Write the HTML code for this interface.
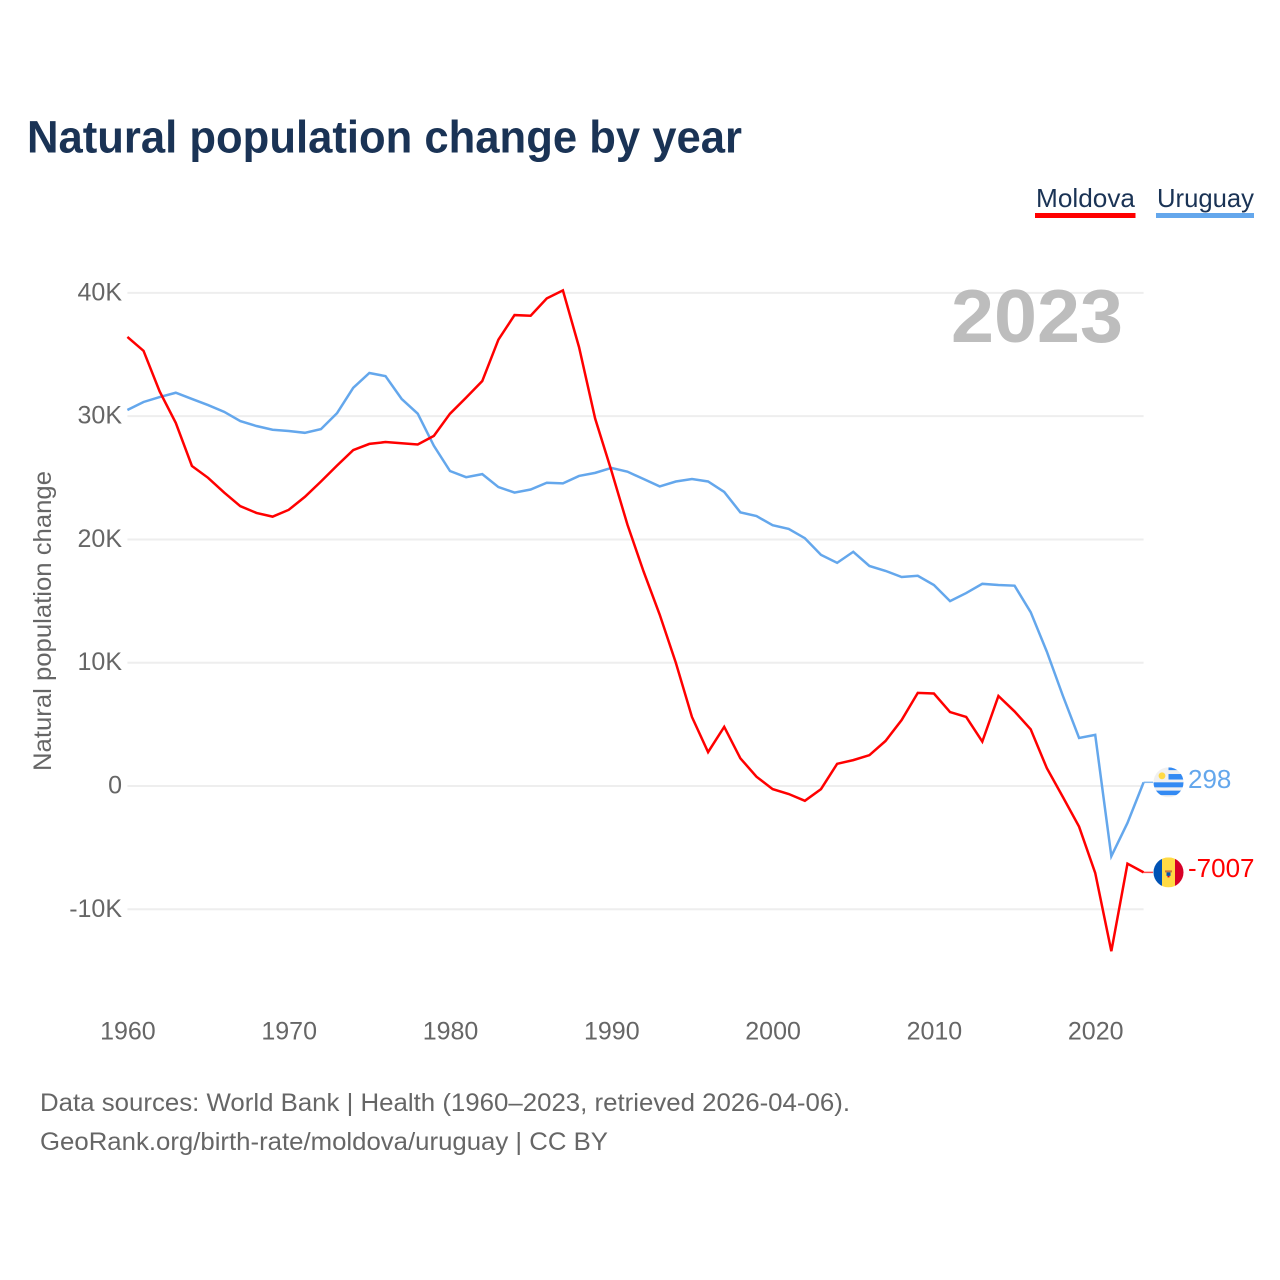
<!DOCTYPE html>
<html lang="en">
<head>
<meta charset="utf-8">
<title>Natural population change by year</title>
<style>
html,body{margin:0;padding:0;background:#fff;width:1280px;height:1280px;overflow:hidden}
svg{display:block}
text{font-family:"Liberation Sans",sans-serif}
</style>
</head>
<body>
<svg id="chart" width="1280" height="1280" viewBox="0 0 1280 1280" xmlns="http://www.w3.org/2000/svg">
  <defs>
    <clipPath id="clip-flag"><circle cx="0" cy="0" r="15"/></clipPath>
  </defs>
  <rect x="0" y="0" width="1280" height="1280" fill="#fff"/>
  <text x="27" y="152.5" font-size="45" font-weight="700" fill="#1a3355" textLength="715" lengthAdjust="spacingAndGlyphs">Natural population change by year</text>

  <g>
    <text x="1036" y="207" font-size="26" fill="#1a3355" textLength="99" lengthAdjust="spacingAndGlyphs">Moldova</text>
    <rect x="1035" y="213" width="100.5" height="5" fill="#ff0000"/>
  </g>
  <g>
    <text x="1157" y="207" font-size="26" fill="#1a3355" textLength="97" lengthAdjust="spacingAndGlyphs">Uruguay</text>
    <rect x="1156" y="213" width="98" height="5" fill="#64a7ec"/>
  </g>

  <g id="grid"></g>
  <g id="y-ticks"></g>
  <g id="x-ticks"></g>

  <text transform="translate(51 621) rotate(-90)" text-anchor="middle" font-size="25" fill="#666" textLength="300" lengthAdjust="spacingAndGlyphs">Natural population change</text>

  <text x="1123" y="342" text-anchor="end" font-size="75" font-weight="700" fill="#bdbdbd" textLength="172" lengthAdjust="spacingAndGlyphs">2023</text>

  <g id="series"></g>
  <g id="ends"></g>

  <text x="40" y="1111" font-size="25" fill="#666" textLength="810" lengthAdjust="spacingAndGlyphs">Data sources: World Bank | Health (1960–2023, retrieved 2026-04-06).</text>
  <text x="40" y="1150" font-size="25" fill="#666" textLength="568" lengthAdjust="spacingAndGlyphs">GeoRank.org/birth-rate/moldova/uruguay | CC BY</text>
</svg>

<script>
const startYear = 1960;
const moldova = [
  36430,35300,32000,29450,25960,25000,23800,22700,22150,21850,
  22400,23450,24700,26000,27250,27750,27900,27800,27700,28400,
  30200,31500,32850,36200,38200,38150,39550,40200,35600,29800,
  25600,21200,17400,13900,10000,5600,2750,4800,2250,750,
  -250,-650,-1200,-250,1800,2100,2500,3650,5350,7550,
  7500,6000,5600,3600,7300,6050,4600,1450,-900,-3300,
  -7050,-13400,-6300,-7007
];
const uruguay = [
  30500,31150,31550,31900,31400,30900,30350,29600,29200,28900,
  28800,28650,28950,30250,32300,33500,33250,31400,30200,27600,
  25550,25050,25300,24250,23800,24050,24600,24550,25150,25400,
  25800,25500,24900,24300,24700,24900,24700,23850,22200,21900,
  21150,20850,20100,18750,18100,19000,17850,17450,16950,17050,
  16300,15000,15650,16400,16300,16250,14100,10900,7300,3900,
  4150,-5700,-3000,298
];
const yTickValues = [-10000,0,10000,20000,30000,40000];
const yTickLabels = ["-10K","0","10K","20K","30K","40K"];
const xTickYears = [1960,1970,1980,1990,2000,2010,2020];
const xTickLabels = ["1960","1970","1980","1990","2000","2010","2020"];

const NS = "http://www.w3.org/2000/svg";
const PLOT_LEFT = 127.4, PLOT_RIGHT = 1143.6, Y_ZERO = 786, PX_PER_UNIT = 0.012328;
const lastIndex = moldova.length - 1;
function xAxis(year){ return PLOT_LEFT + (year - startYear) * (PLOT_RIGHT - PLOT_LEFT) / lastIndex; }
function yAxis(value){ return Y_ZERO - value * PX_PER_UNIT; }
function svgEl(tag, attrs, parent){
  const el = document.createElementNS(NS, tag);
  for (const k in attrs) el.setAttribute(k, attrs[k]);
  parent.appendChild(el);
  return el;
}
const gridG = document.getElementById("grid");
const yG = document.getElementById("y-ticks");
const xG = document.getElementById("x-ticks");
const seriesG = document.getElementById("series");
const endsG = document.getElementById("ends");

yTickValues.forEach(function(v, i){
  const line = svgEl("line", {x1:PLOT_LEFT, x2:PLOT_RIGHT, y1:yAxis(v), y2:yAxis(v), stroke:"#eeeeee", "stroke-width":2}, gridG);
  
  
  const t = svgEl("text", {x:122, y:yAxis(v)+7.5, "text-anchor":"end", "font-size":25, fill:"#666"}, yG);
  t.textContent = yTickLabels[i];
  
  
});

xTickYears.forEach(function(year, i){
  const t = svgEl("text", {x:xAxis(year)+0.5, y:1039.5, "text-anchor":"middle", "font-size":25, fill:"#666"}, xG);
  t.textContent = xTickLabels[i];
  
  
});

function pathFor(values){
  return values.map(function(v, i){
    return (i ? "L" : "M") + xAxis(startYear + i).toFixed(2) + " " + yAxis(v).toFixed(2);
  }).join(" ");
}

const uruguayLine = svgEl("path", {d:pathFor(uruguay), fill:"none", stroke:"#64a7ec", "stroke-width":2.5, "stroke-linejoin":"miter"}, seriesG);


const moldovaLine = svgEl("path", {d:pathFor(moldova), fill:"none", stroke:"#ff0000", "stroke-width":2.5, "stroke-linejoin":"miter"}, seriesG);



function flagGroup(value){
  return svgEl("g", {transform:"translate(1168.5 " + yAxis(value).toFixed(2) + ")", "clip-path":"url(#clip-flag)"}, endsG);
}

/* Uruguay end marker */
const uEnd = uruguay[lastIndex];
const uConn = svgEl("line", {x1:PLOT_RIGHT, x2:1153, y1:yAxis(uEnd), y2:yAxis(uEnd), stroke:"#64a7ec", "stroke-width":1.5, opacity:0.8}, endsG);


const uFlag = flagGroup(uEnd);


svgEl("rect", {x:-15, y:-15, width:30, height:30, fill:"#f0f0f0"}, uFlag);
svgEl("rect", {x:0, y:-15, width:15, height:2.8, fill:"#338af3"}, uFlag);
svgEl("rect", {x:0, y:-8.3, width:15, height:5.5, fill:"#338af3"}, uFlag);
svgEl("rect", {x:-15, y:0, width:30, height:5, fill:"#338af3"}, uFlag);
svgEl("rect", {x:-15, y:8.3, width:30, height:4.5, fill:"#338af3"}, uFlag);
svgEl("circle", {cx:-6.5, cy:-6.5, r:3.4, fill:"#ffda44"}, uFlag);
const uLabel = svgEl("text", {x:1188, y:yAxis(uEnd)+5.5, "font-size":26, fill:"#64a7ec"}, endsG);
uLabel.textContent = String(uEnd);



/* Moldova end marker */
const mEnd = moldova[lastIndex];
const mConn = svgEl("line", {x1:PLOT_RIGHT, x2:1153, y1:yAxis(mEnd), y2:yAxis(mEnd), stroke:"#ff0000", "stroke-width":1.5, opacity:0.7}, endsG);


const mFlag = flagGroup(mEnd);


svgEl("rect", {x:-15, y:-15, width:8.5, height:30, fill:"#0052b4"}, mFlag);
svgEl("rect", {x:-6.5, y:-15, width:13, height:30, fill:"#ffda44"}, mFlag);
svgEl("rect", {x:6.5, y:-15, width:8.5, height:30, fill:"#d80027"}, mFlag);
svgEl("rect", {x:-3.5, y:-2, width:7, height:2, fill:"#c9763c"}, mFlag);
svgEl("rect", {x:-2, y:0, width:4, height:3.5, fill:"#0052b4"}, mFlag);
svgEl("rect", {x:-1, y:3.5, width:2, height:1.5, fill:"#d80027"}, mFlag);
const mLabel = svgEl("text", {x:1188, y:yAxis(mEnd)+4.5, "font-size":26, fill:"#ff0000"}, endsG);
mLabel.textContent = String(mEnd);


</script>
</body>
</html>
